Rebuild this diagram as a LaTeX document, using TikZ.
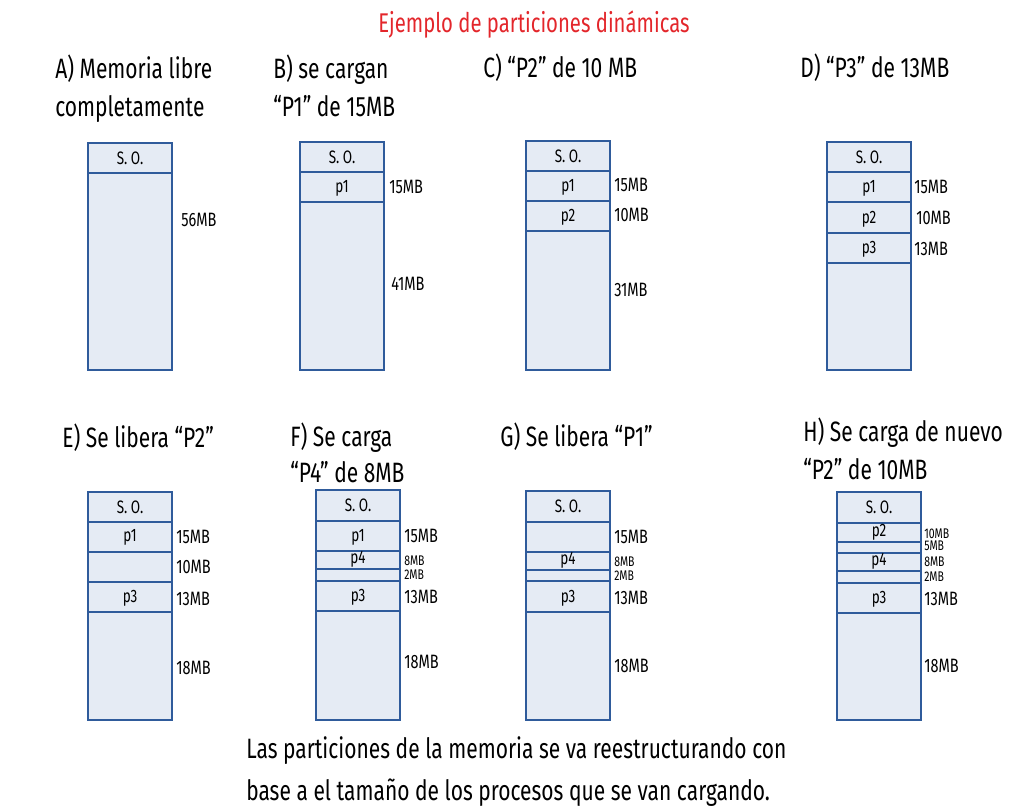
\documentclass[tikz,border=0pt]{standalone}
\usepackage{fontspec}
\setmainfont{Fira Sans}[FakeStretch=0.75]
\definecolor{membord}{HTML}{2F5B9B}
\definecolor{memfill}{HTML}{E5EBF4}
\definecolor{titlered}{HTML}{E3262B}
\tikzset{memseg/.style={draw=membord, fill=memfill, line width=1.1pt}}
\tikzset{inbox/.style={font=\fontsize{13.5}{13.5}\selectfont, inner sep=0}}
\tikzset{sizelbl/.style={anchor=west, font=\fontsize{14.5}{14.5}\selectfont, inner sep=0}}
\tikzset{tinylbl/.style={anchor=west, font=\fontsize{10.5}{10.5}\selectfont, inner sep=0}}
\tikzset{heading/.style={anchor=base west, font=\fontsize{21}{21}\selectfont, inner sep=0}}

\begin{document}
\begin{tikzpicture}[x=0.75pt,y=-0.75pt]
\useasboundingbox (0,0) rectangle (1026,811);

\node[heading, text=titlered, font=\fontsize{20.3}{20.3}\selectfont] (title) at (378,32) {Ejemplo de particiones dinámicas};

% A
\node[heading] (ha1) at (55,78) {A) Memoria libre};
\node[heading] (ha2) at (55,116) {completamente};
\foreach \a/\b in {143/173,173/370} \draw[memseg] (88,\a) rectangle (172,\b);
\node[inbox] (aso) at (130,158) {S. O.};
\node[sizelbl] (a56) at (181,220) {56MB};

% B
\node[heading] (hb1) at (273,78) {B) se cargan};
\node[heading] (hb2) at (273,116) {“P1” de 15MB};
\foreach \a/\b in {142/172,172/202,202/370} \draw[memseg] (300,\a) rectangle (384,\b);
\node[inbox] (bso) at (342,157) {S. O.};
\node[inbox] (bp1) at (342,188) {p1};
\node[sizelbl] (b15) at (389,187) {15MB};
\node[sizelbl] (b41) at (391,284) {41MB};

% C
\node[heading] (hc1) at (483,77) {C) “P2” de 10 MB};
\foreach \a/\b in {141/171,171/201,201/231,231/370} \draw[memseg] (526,\a) rectangle (610,\b);
\node[inbox] (cso) at (568,156) {S. O.};
\node[inbox] (cp1) at (568,187) {p1};
\node[inbox] (cp2) at (568,217) {p2};
\node[sizelbl] (c15) at (614,185) {15MB};
\node[sizelbl] (c10) at (614,215) {10MB};
\node[sizelbl] (c31) at (614,290) {31MB};

% D
\node[heading] (hd1) at (800,77) {D) “P3” de 13MB};
\foreach \a/\b in {142/172,172/202,202/233,233/263,263/370} \draw[memseg] (827,\a) rectangle (911,\b);
\node[inbox] (dso) at (869,157) {S. O.};
\node[inbox] (dp1) at (869,188) {p1};
\node[inbox] (dp2) at (869,219) {p2};
\node[inbox] (dp3) at (869,249) {p3};
\node[sizelbl] (d15) at (914,187) {15MB};
\node[sizelbl] (d10) at (916,218) {10MB};
\node[sizelbl] (d13) at (914,249) {13MB};

% E
\node[heading] (he1) at (62,447) {E) Se libera “P2”};
\foreach \a/\b in {492/522,522/552,552/582,582/612,612/720} \draw[memseg] (88,\a) rectangle (172,\b);
\node[inbox] (eso) at (130,507) {S. O.};
\node[inbox] (ep1) at (130,537) {p1};
\node[inbox] (ep3) at (130,598) {p3};
\node[sizelbl] (e15) at (176,537) {15MB};
\node[sizelbl] (e10) at (176,567) {10MB};
\node[sizelbl] (e13) at (176,599) {13MB};
\node[sizelbl] (e18) at (176,668) {18MB};

% F
\node[heading] (hf1) at (290,446) {F) Se carga};
\node[heading] (hf2) at (290,482) {“P4” de 8MB};
\foreach \a/\b in {490/521,521/551,551/569,569/581,581/611,611/720} \draw[memseg] (316,\a) rectangle (400,\b);
\node[inbox] (fso) at (358,505) {S. O.};
\node[inbox] (fp1) at (358,537) {p1};
\node[inbox] (fp4) at (358,559) {p4};
\node[inbox] (fp3) at (358,597) {p3};
\node[sizelbl] (f15) at (404,536) {15MB};
\node[tinylbl] (f8) at (404,561) {8MB};
\node[tinylbl] (f2) at (404,575) {2MB};
\node[sizelbl] (f13) at (404,597) {13MB};
\node[sizelbl] (f18) at (404,662) {18MB};

% G
\node[heading] (hg1) at (500,446) {G) Se libera “P1”};
\foreach \a/\b in {491/522,522/552,552/570,570/581,581/612,612/720} \draw[memseg] (526,\a) rectangle (610,\b);
\node[inbox] (gso) at (568,506) {S. O.};
\node[inbox] (gp4) at (568,560) {p4};
\node[inbox] (gp3) at (568,598) {p3};
\node[sizelbl] (g15) at (614,537) {15MB};
\node[tinylbl] (g8) at (614,562) {8MB};
\node[tinylbl] (g2) at (614,576) {2MB};
\node[sizelbl] (g13) at (614,598) {13MB};
\node[sizelbl] (g18) at (614,666) {18MB};

% H
\node[heading] (hh1) at (803,441) {H) Se carga de nuevo};
\node[heading] (hh2) at (803,479) {“P2” de 10MB};
\foreach \a/\b in {492/523,523/542,542/553,553/571,571/583,583/613,613/720} \draw[memseg] (837,\a) rectangle (921,\b);
\node[inbox] (hso) at (879,507) {S. O.};
\node[inbox] (hp2) at (879,532) {p2};
\node[inbox] (hp4) at (879,561) {p4};
\node[inbox] (hp3) at (879,599) {p3};
\node[tinylbl] (h10) at (924,534) {10MB};
\node[tinylbl] (h5) at (924,546) {5MB};
\node[tinylbl] (h8) at (924,562) {8MB};
\node[tinylbl] (h2) at (924,577) {2MB};
\node[sizelbl] (h13) at (924,599) {13MB};
\node[sizelbl] (h18) at (924,666) {18MB};

\node[heading] (nota1) at (246,758) {Las particiones de la memoria se va reestructurando con};
\node[heading] (nota2) at (246,800) {base a el tamaño de los procesos que se van cargando.};
\end{tikzpicture}
\end{document}
